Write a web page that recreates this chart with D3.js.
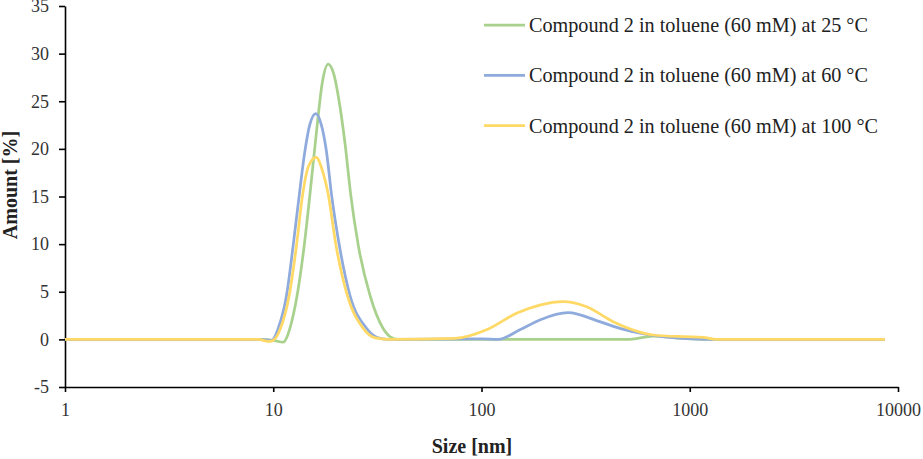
<!DOCTYPE html>
<html>
<head>
<meta charset="utf-8">
<script src="https://cdn.jsdelivr.net/npm/d3@7"></script>
</head>
<body style="margin:0; background:#fff;">
<div id="chart"></div>
<script>
// DLS size distributions (size in nm, amount in %)
var green25Size = [1, 8.5, 10, 11.17, 11.61, 12.02, 13.03, 14.09, 15.0, 16.22, 17.18, 18.37, 19.5, 20.89, 22.13, 23.55, 25.59, 29.11, 33.65, 36.3, 39.8, 400, 515, 667, 929, 1259, 8650];
var green25Amount = [0, 0, -0.1, -0.3, 0.2, 1.16, 4.66, 9.9, 15.2, 22.3, 26.9, 28.9, 27.9, 24.5, 20.5, 15.2, 9.9, 4.66, 1.16, 0.3, 0, 0, 0, 0.35, 0.1, 0, 0];

var blue60Size = [1, 8.5, 9.77, 10, 10.57, 11.59, 12.47, 13.34, 14.13, 14.96, 16.0, 16.98, 17.99, 19.05, 20.75, 23.33, 28.05, 31.6, 35.5, 100, 120.2, 152.8, 190.5, 260.6, 369.8, 461.3, 642.7, 926.8, 1300, 8650];
var blue60Amount = [0, 0, -0.1, 0, 1.16, 4.66, 9.9, 15.2, 19.5, 22.5, 23.7, 22.6, 19.8, 15.2, 9.9, 4.66, 1.16, 0.2, 0, 0.05, 0, 1.0, 2.04, 2.8, 1.86, 1.16, 0.46, 0.1, 0, 0];

var yellow100Size = [1, 8.5, 9.44, 9.89, 10.84, 11.94, 12.94, 13.84, 14.79, 16.07, 17.18, 18.37, 20.0, 22.65, 27.04, 30.9, 35.5, 74.5, 105.7, 147.2, 190.5, 246.6, 319.9, 428.5, 534.6, 666.8, 929, 1159, 1343, 8650];
var yellow100Amount = [0, 0, -0.2, -0.15, 1.16, 4.66, 9.9, 15.2, 18.2, 19.1, 17.8, 15.2, 9.9, 4.66, 1.16, 0.15, 0, 0.1, 1.0, 2.74, 3.6, 3.96, 3.43, 1.86, 0.99, 0.46, 0.28, 0.22, 0, 0];

var seriesNames = ["Compound 2 in toluene (60 mM) at 25 °C",
                   "Compound 2 in toluene (60 mM) at 60 °C",
                   "Compound 2 in toluene (60 mM) at 100 °C"];
var seriesColors = ["#A9D18E", "#8FAADC", "#FFD966"];

var xTicks = [1, 10, 100, 1000, 10000];
var yTicks = [-5, 0, 5, 10, 15, 20, 25, 30, 35];

var serif = "'Liberation Serif', Tinos, 'Times New Roman', serif";

// chart area
var svgWidth = 923, svgHeight = 459;
var margin = {left: 65, right: 25, top: 6, bottom: 72};
var width = svgWidth - margin.left - margin.right,
    height = svgHeight - margin.top - margin.bottom;

var svg = d3.select("#chart")
    .append("svg")
        .attr("width", svgWidth)
        .attr("height", svgHeight)
        .attr("font-family", serif);

var chartGroup = svg.append("g")
    .attr("transform", `translate(${margin.left}, ${margin.top})`);

// scales
var xLogScale = d3.scaleLog()
    .domain([1, 10000])
    .range([0, width]);

var yLinearScale = d3.scaleLinear()
    .domain([-5, 35])
    .range([height, 0]);

// axes (plain hyphen for negatives, like the original)
var bottomAxis = d3.axisBottom(xLogScale)
    .tickValues(xTicks)
    .tickFormat(d => String(d))
    .tickSizeInner(5)
    .tickSizeOuter(0)
    .tickPadding(11);

var leftAxis = d3.axisLeft(yLinearScale)
    .tickValues(yTicks)
    .tickFormat(d => String(d))
    .tickSizeInner(6)
    .tickSizeOuter(0)
    .tickPadding(10);

var xAxis = chartGroup.append("g")
    .attr("transform", `translate(0, ${height})`)
    .call(bottomAxis);

var yAxis = chartGroup.append("g")
    .call(leftAxis);

[xAxis, yAxis].forEach(function(ax) {
    ax.attr("font-family", serif).attr("font-size", 18);
    ax.select(".domain").attr("stroke", "#000").attr("stroke-width", 1.6);
    ax.selectAll(".tick line").attr("stroke", "#000").attr("stroke-width", 1.6);
    ax.selectAll(".tick text").attr("fill", "#333");
});

// lines
var seriesData = [
    d3.zip(green25Size, green25Amount),
    d3.zip(blue60Size, blue60Amount),
    d3.zip(yellow100Size, yellow100Amount)
];

var line = d3.line()
    .x(d => xLogScale(d[0]))
    .y(d => yLinearScale(d[1]))
    .curve(d3.curveMonotoneX);

chartGroup.selectAll(".series")
    .data(seriesData)
    .enter()
    .append("path")
        .attr("class", "series")
        .attr("fill", "none")
        .attr("stroke", (d, i) => seriesColors[i])
        .attr("stroke-width", 2.75)
        .attr("stroke-linejoin", "round")
        .attr("d", line);

// legend
var legend = svg.append("g")
    .attr("font-size", 20.2)
    .attr("fill", "#222");

var legendRows = legend.selectAll("g")
    .data(seriesNames)
    .enter()
    .append("g")
        .attr("transform", (d, i) => `translate(484, ${25 + i * 50.3})`);

legendRows.append("line")
    .attr("x1", 0)
    .attr("x2", 41)
    .attr("stroke", (d, i) => seriesColors[i])
    .attr("stroke-width", 2.75);

legendRows.append("text")
    .attr("x", 45)
    .attr("y", 7)
    .text(d => d);

// axis titles
svg.append("text")
    .attr("font-size", 20)
    .attr("font-weight", "bold")
    .attr("fill", "#222")
    .attr("text-anchor", "middle")
    .attr("x", 472)
    .attr("y", 453)
    .text("Size [nm]");

svg.append("text")
    .attr("font-size", 20)
    .attr("font-weight", "bold")
    .attr("fill", "#222")
    .attr("text-anchor", "middle")
    .attr("transform", "translate(16.5, 185) rotate(-90)")
    .text("Amount [%]");
</script>
</body>
</html>
